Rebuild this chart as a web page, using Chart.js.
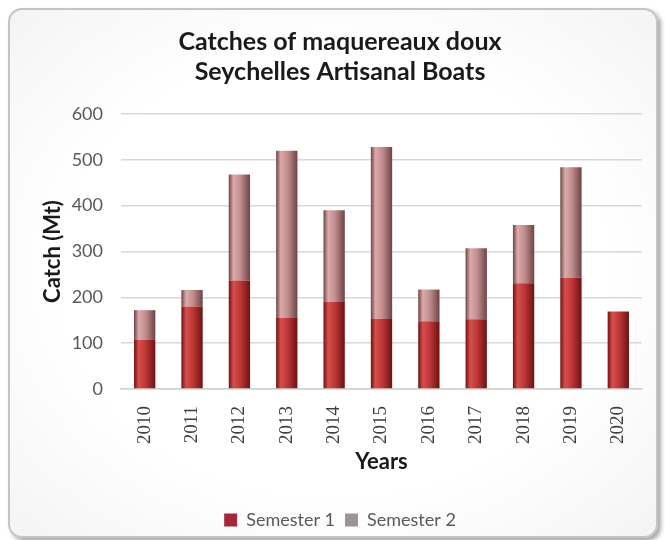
<!DOCTYPE html>
<html>
<head>
<meta charset="utf-8">
<script src="https://cdn.jsdelivr.net/npm/chart.js@4/dist/chart.umd.min.js"></script>
<style>
    html, body { margin: 0; padding: 0; background: #ffffff; }
    .frame {
        position: absolute; left: 8px; top: 8px; width: 646px; height: 526px;
        border: 2px solid #c4c4c4; border-radius: 14px;
        box-shadow: 3px 3px 4px rgba(0, 0, 0, 0.35);
        background: radial-gradient(ellipse at center, #ffffff 60%, #f4f4f4 100%);
    }
    #chart { position: absolute; left: 0; top: 0; }
</style>
</head>
<body>
<div class="frame"></div>
<canvas id="chart" width="665" height="540"></canvas>
<script>
const years = ['2010', '2011', '2012', '2013', '2014', '2015', '2016', '2017', '2018', '2019', '2020'];
const semester1 = [107, 180, 237, 155, 190, 153, 148, 152, 231, 243, 169];
const semester2 = [65, 36, 231, 365, 200, 375, 69, 155, 127, 241, 0];
const yTicks = [0, 100, 200, 300, 400, 500, 600];

const BAR_PCT = 0.5;
const CAT_PCT = 0.9;

// horizontal shading so each bar looks like a rounded column
function columnFill(edge, mid, light) {
    return (ctx) => {
        const chart = ctx.chart;
        const x = chart.scales.x;
        if (!chart.chartArea || !x || ctx.dataIndex === undefined) return mid;
        const cx = x.getPixelForValue(ctx.dataIndex);
        const w = x.width / years.length * BAR_PCT * CAT_PCT;
        const g = chart.ctx.createLinearGradient(cx - w / 2, 0, cx + w / 2, 0);
        g.addColorStop(0, edge);
        g.addColorStop(0.22, light);
        g.addColorStop(0.55, mid);
        g.addColorStop(1, edge);
        return g;
    };
}

const legendColors = ['#a3283a', '#9c9494'];

new Chart(document.getElementById('chart'), {
    type: 'bar',
    data: {
        labels: years,
        datasets: [{
            label: 'Semester 1',
            data: semester1,
            backgroundColor: columnFill('#6e1212', '#bd3636', '#d64e4c'),
            barPercentage: BAR_PCT,
            categoryPercentage: CAT_PCT
        }, {
            label: 'Semester 2',
            data: semester2,
            backgroundColor: columnFill('#6e4444', '#c08c8c', '#dcaaaa'),
            barPercentage: BAR_PCT,
            categoryPercentage: CAT_PCT
        }]
    },
    options: {
        responsive: false,
        animation: false,
        layout: { padding: { left: 38, right: 23, top: 0, bottom: 1 } },
        plugins: {
            title: {
                display: true,
                text: ['Catches of maquereaux doux', 'Seychelles Artisanal Boats'],
                color: '#1a1a1a',
                font: { family: 'Lato', size: 25, weight: 'bold', lineHeight: 1.2 },
                padding: { top: 27, bottom: 27 }
            },
            legend: {
                position: 'bottom',
                labels: {
                    color: '#595959',
                    font: { family: 'Lato', size: 18 },
                    boxWidth: 13,
                    boxHeight: 13,
                    padding: 10,
                    generateLabels: (chart) => {
                        const items = Chart.defaults.plugins.legend.labels.generateLabels(chart);
                        items.forEach((it, i) => {
                            it.fillStyle = legendColors[i];
                            it.strokeStyle = legendColors[i];
                            it.lineWidth = 0;
                        });
                        return items;
                    }
                }
            },
            tooltip: { enabled: false }
        },
        scales: {
            x: {
                stacked: true,
                grid: { display: false },
                border: { color: '#d0d0d0', width: 1.5 },
                ticks: {
                    color: '#404040',
                    font: { family: 'Liberation Serif', size: 19 },
                    maxRotation: 90,
                    minRotation: 90,
                    padding: 9
                },
                title: {
                    display: true,
                    text: 'Years',
                    color: '#1a1a1a',
                    font: { family: 'Lato', size: 22, weight: 'bold' },
                    padding: { top: 4, bottom: 26 }
                },
                afterFit: (scale) => { scale.height = 112; }
            },
            y: {
                stacked: true,
                min: 0,
                max: 600,
                grid: { color: '#d8d8d8', lineWidth: 1.5, drawTicks: false },
                border: { display: false },
                afterBuildTicks: (scale) => { scale.ticks = yTicks.map(v => ({ value: v })); },
                ticks: {
                    color: '#595959',
                    font: { family: 'Lato', size: 18 },
                    padding: 18
                },
                title: {
                    display: true,
                    text: 'Catch (Mt)',
                    color: '#1a1a1a',
                    font: { family: 'Lato', size: 22, weight: 'bold' },
                    padding: { top: 2, bottom: 0 }
                },
                afterFit: (scale) => { scale.width = 83; }
            }
        }
    }
});
</script>
</body>
</html>
